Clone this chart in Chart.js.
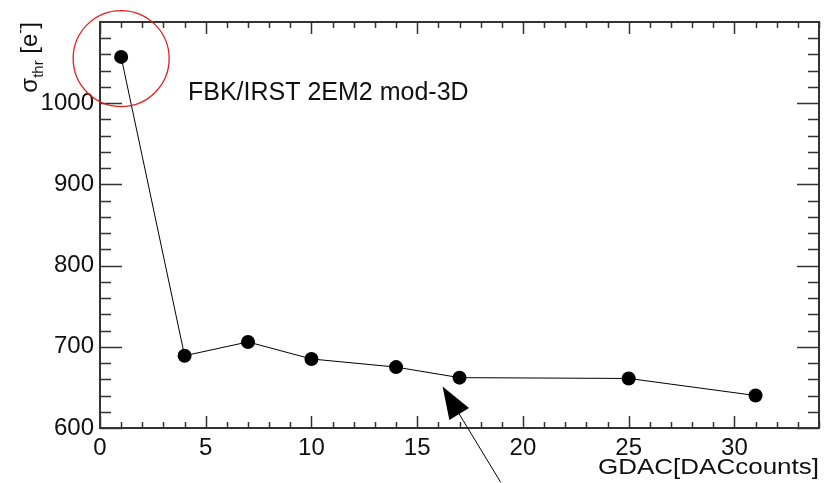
<!DOCTYPE html>
<html>
<head>
<meta charset="utf-8">
<script src="https://cdn.jsdelivr.net/npm/chart.js@4.4.0/dist/chart.umd.min.js"></script>
<style>
  body { margin: 0; background: #fff; }
  canvas { display: block; }
</style>
</head>
<body>
<canvas id="sigmaChart" width="826" height="483"></canvas>
<script>
// GDAC scan, threshold dispersion
const gdac = [1, 4, 7, 10, 14, 17, 25, 31];
const sigmaThr = [1057, 689, 706, 685, 675, 662, 661, 640];

const xRange = [0, 34];
const yRange = [600, 1100];
const yLabelMax = 1000; // top edge is not labelled

const plotTitle = 'FBK/IRST 2EM2 mod-3D';
const xTitle = 'GDAC[DACcounts]';

// annotation anchors in data units
const circleAt = { x: 1, y: 1055 };
const arrowTip = { x: 16.2, y: 651 };
const arrowTail = { x: 18.95, y: 533 };

const frameColor = '#333';

const rootFrame = {
    id: 'rootFrame',
    afterDraw(chart) {
        const ctx = chart.ctx;
        const a = chart.chartArea;
        const xs = chart.scales.x;
        const ys = chart.scales.y;
        ctx.save();

        // ticks inside the frame, like ROOT
        ctx.strokeStyle = frameColor;
        ctx.lineWidth = 1.5;
        ctx.beginPath();
        for (let v = xRange[0]; v <= xRange[1]; v++) {
            const px = Math.round(xs.getPixelForValue(v)) + 0.5;
            const len = v % 5 === 0 ? 12 : 6;
            ctx.moveTo(px, a.bottom); ctx.lineTo(px, a.bottom - len);
            ctx.moveTo(px, a.top); ctx.lineTo(px, a.top + len);
        }
        for (let v = yRange[0]; v < yRange[1]; v += 20) {
            const py = Math.round(ys.getPixelForValue(v)) + 0.5;
            const len = v % 100 === 0 ? 22 : 11;
            ctx.moveTo(a.left, py); ctx.lineTo(a.left + len, py);
            ctx.moveTo(a.right, py); ctx.lineTo(a.right - len, py);
        }
        ctx.stroke();

        ctx.lineWidth = 2;
        ctx.strokeRect(a.left, a.top, a.right - a.left, a.bottom - a.top);

        // text
        ctx.fillStyle = '#111';
        ctx.textBaseline = 'alphabetic';
        ctx.textAlign = 'left';
        ctx.font = '25px "Liberation Sans", Arial, sans-serif';
        ctx.fillText(plotTitle, 188, 100);

        // x title, slightly stretched like the original
        ctx.save();
        ctx.font = '22px "Liberation Sans", Arial, sans-serif';
        const w = ctx.measureText(xTitle).width;
        const sx = 221 / w;
        ctx.translate(a.right, 474);
        ctx.scale(sx, 1);
        ctx.textAlign = 'right';
        ctx.fillText(xTitle, 0, 0);
        ctx.restore();

        // y title: sigma_thr [e^-]
        ctx.save();
        ctx.translate(37, a.top);
        ctx.rotate(-Math.PI / 2);
        const big = '24px "Liberation Sans", Arial, sans-serif';
        const small = '15px "Liberation Sans", Arial, sans-serif';
        const parts = [
            { t: '\u03c3', f: big, dy: 0 },
            { t: 'thr', f: small, dy: 6 },
            { t: ' [e', f: big, dy: 0 },
            { t: '-', f: small, dy: -12 },
            { t: ']', f: big, dy: 0 }
        ];
        let total = 0;
        parts.forEach(p => { ctx.font = p.f; p.w = ctx.measureText(p.t).width; total += p.w; });
        let cx = -total;
        ctx.textAlign = 'left';
        parts.forEach(p => { ctx.font = p.f; ctx.fillText(p.t, cx, p.dy); cx += p.w; });
        ctx.restore();

        // red circle around the first point
        ctx.strokeStyle = '#e0201c';
        ctx.lineWidth = 1.3;
        ctx.beginPath();
        ctx.arc(xs.getPixelForValue(circleAt.x), ys.getPixelForValue(circleAt.y), 48, 0, Math.PI * 2);
        ctx.stroke();

        // arrow
        const tx = xs.getPixelForValue(arrowTip.x), ty = ys.getPixelForValue(arrowTip.y);
        const ex = xs.getPixelForValue(arrowTail.x), ey = ys.getPixelForValue(arrowTail.y);
        const L = Math.hypot(ex - tx, ey - ty);
        const ux = (ex - tx) / L, uy = (ey - ty) / L;
        const hl = 32, hw = 11.5;
        const bx = tx + ux * hl, by = ty + uy * hl;
        ctx.strokeStyle = '#000';
        ctx.lineWidth = 1;
        ctx.beginPath();
        ctx.moveTo(bx, by); ctx.lineTo(ex, ey);
        ctx.stroke();
        ctx.fillStyle = '#000';
        ctx.beginPath();
        ctx.moveTo(tx, ty);
        ctx.lineTo(bx - uy * hw, by + ux * hw);
        ctx.lineTo(bx + uy * hw, by - ux * hw);
        ctx.closePath();
        ctx.fill();

        ctx.restore();
    }
};

const ctx = document.getElementById('sigmaChart').getContext('2d');
new Chart(ctx, {
    type: 'scatter',
    data: {
        datasets: [{
            data: gdac.map((g, i) => ({ x: g, y: sigmaThr[i] })),
            showLine: true,
            borderColor: '#000',
            borderWidth: 1,
            backgroundColor: '#000',
            pointRadius: 7,
            pointBorderWidth: 0,
            tension: 0
        }]
    },
    options: {
        responsive: false,
        animation: false,
        layout: { padding: { top: 22, right: 7, left: 0, bottom: 0 } },
        plugins: { legend: { display: false }, tooltip: { enabled: false } },
        scales: {
            x: {
                type: 'linear',
                min: xRange[0],
                max: xRange[1],
                grid: { display: false, drawTicks: false },
                border: { display: false },
                ticks: {
                    stepSize: 5,
                    includeBounds: false,
                    padding: 6,
                    color: '#111',
                    font: { family: '"Liberation Sans", Arial, sans-serif', size: 24 },
                    callback: v => String(v)
                },
                afterFit(scale) { scale.height = 55; }
            },
            y: {
                type: 'linear',
                min: yRange[0],
                max: yRange[1],
                grid: { display: false, drawTicks: false },
                border: { display: false },
                ticks: {
                    stepSize: 100,
                    padding: 6,
                    color: '#111',
                    font: { family: '"Liberation Sans", Arial, sans-serif', size: 24 },
                    callback: v => (v > yLabelMax ? '' : String(v))
                },
                afterFit(scale) { scale.width = 100; }
            }
        }
    },
    plugins: [rootFrame]
});
</script>
</body>
</html>
